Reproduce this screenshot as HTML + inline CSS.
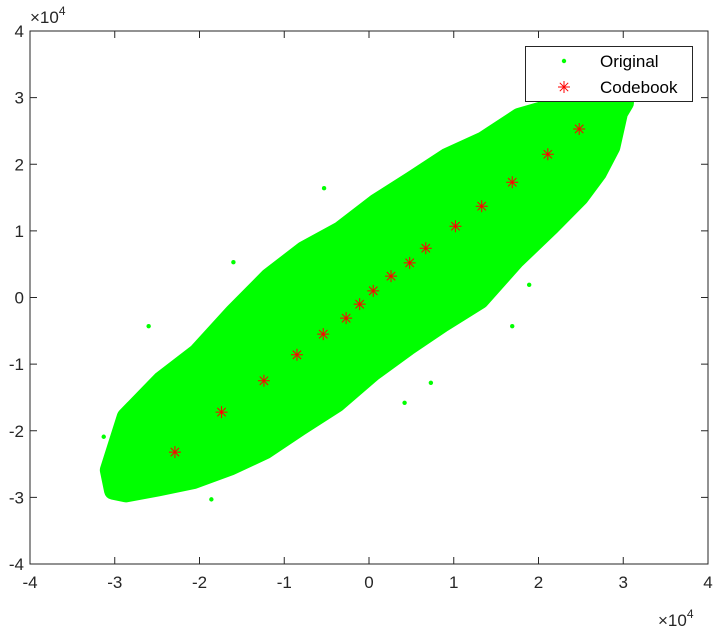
<!DOCTYPE html>
<html><head><meta charset="utf-8"><style>
html,body{margin:0;padding:0;background:#fff;}
svg{display:block;font-family:"Liberation Sans",Arial,sans-serif;}
</style></head><body>
<svg id="chart" width="714" height="631" viewBox="0 0 714 631"></svg>
<script>
const xTicks=[-4,-3,-2,-1,0,1,2,3,4];
const yTicks=[-4,-3,-2,-1,0,1,2,3,4];
const cloudX=[-3.02,-2.87,-2.45,-2.03,-1.60,-1.18,-0.77,-0.34,0.08,0.50,0.92,1.35,1.77,2.18,2.61,2.95,3.02,2.95,2.86,2.70,2.49,2.14,1.73,1.31,0.88,0.46,0.04,-0.38,-0.81,-1.22,-1.64,-2.07,-2.49,-2.87,-3.02,-3.07];
const cloudY=[-2.39,-1.79,-1.24,-0.83,-0.23,0.31,0.71,1.01,1.42,1.76,2.11,2.36,2.71,2.86,2.98,3.02,2.92,2.77,2.26,1.87,1.51,1.06,0.56,-0.04,-0.38,-0.74,-1.13,-1.59,-1.94,-2.29,-2.54,-2.74,-2.85,-2.94,-2.90,-2.59];
const outX=[-0.53,-1.60,-2.60,1.69,0.73,0.42,-3.13,-1.86,1.89];
const outY=[1.64,0.53,-0.43,-0.43,-1.28,-1.58,-2.09,-3.03,0.19];
const codeX=[-2.29,-1.74,-1.24,-0.85,-0.54,-0.27,-0.11,0.05,0.26,0.48,0.67,1.02,1.33,1.69,2.11,2.48];
const codeY=[-2.32,-1.72,-1.25,-0.86,-0.55,-0.31,-0.10,0.10,0.32,0.52,0.74,1.07,1.37,1.73,2.15,2.53];

const L=30,R=708,T=31,B=564;
const sx=v=>L+(v+4)/8*(R-L);
const sy=v=>B-(v+4)/8*(B-T);
const NS="http://www.w3.org/2000/svg";
const svg=document.getElementById('chart');
function mk(tag,attrs,parent){const e=document.createElementNS(NS,tag);for(const k in attrs)e.setAttribute(k,attrs[k]);(parent||svg).appendChild(e);return e;}

const plot=mk('g',{});


mk('rect',{x:L,y:T,width:R-L,height:B-T,fill:'#fff'},plot);

const pts=cloudX.map((x,i)=>sx(x)+','+sy(cloudY[i])).join(' ');
const cloud=mk('polygon',{points:pts,fill:'#00ff00',stroke:'#00ff00','stroke-width':18,'stroke-linejoin':'round'},plot);


outX.forEach((x,i)=>{
  const c=mk('circle',{cx:sx(x),cy:sy(outY[i]),r:2.2,fill:'#00ff00'},plot);
  
  
});

function star(cx,cy,s,g){
  const p=`M${cx-s},${cy}H${cx+s}M${cx},${cy-s}V${cy+s}M${cx-s*0.7},${cy-s*0.7}L${cx+s*0.7},${cy+s*0.7}M${cx-s*0.7},${cy+s*0.7}L${cx+s*0.7},${cy-s*0.7}`;
  return mk('path',{d:p,stroke:'#ff0000','stroke-width':1,fill:'none'},g);
}
codeX.forEach((x,i)=>{
  const s=star(sx(x),sy(codeY[i]),6,plot);
  
  
});

const ax=mk('g',{});


mk('rect',{x:L,y:T,width:R-L,height:B-T,fill:'none',stroke:'#262626','stroke-width':1},ax);
xTicks.forEach(v=>{
  const x=sx(v);
  mk('line',{x1:x,x2:x,y1:B,y2:B-7,stroke:'#262626'},ax);
  mk('line',{x1:x,x2:x,y1:T,y2:T+7,stroke:'#262626'},ax);
  const t=mk('text',{x:x,y:B+24,'text-anchor':'middle','font-size':17,fill:'#262626'},ax);
  t.textContent=String(v);
  
  
});
yTicks.forEach(v=>{
  const y=sy(v);
  mk('line',{x1:L,x2:L+7,y1:y,y2:y,stroke:'#262626'},ax);
  mk('line',{x1:R,x2:R-7,y1:y,y2:y,stroke:'#262626'},ax);
  const t=mk('text',{x:L-6,y:y+6,'text-anchor':'end','font-size':17,fill:'#262626'},ax);
  t.textContent=String(v);
  
  
});
const ye=mk('text',{x:30,y:23,'font-size':17,fill:'#262626'});
ye.innerHTML='×10<tspan dy="-8" font-size="12">4</tspan>';


const xe=mk('text',{x:658,y:626,'font-size':17,fill:'#262626'});
xe.innerHTML='×10<tspan dy="-8" font-size="12">4</tspan>';



const lg=mk('g',{});


mk('rect',{x:525.5,y:46.5,width:167,height:55,fill:'#fff',stroke:'#262626','stroke-width':1},lg);
mk('circle',{cx:564,cy:61,r:2.2,fill:'#00ff00'},lg);
const t1=mk('text',{x:600,y:67,'font-size':17,fill:'#000'},lg);
t1.textContent='Original';


star(564,87,6,lg);
const t2=mk('text',{x:600,y:93,'font-size':17,fill:'#000'},lg);
t2.textContent='Codebook';


</script>
</body></html>
